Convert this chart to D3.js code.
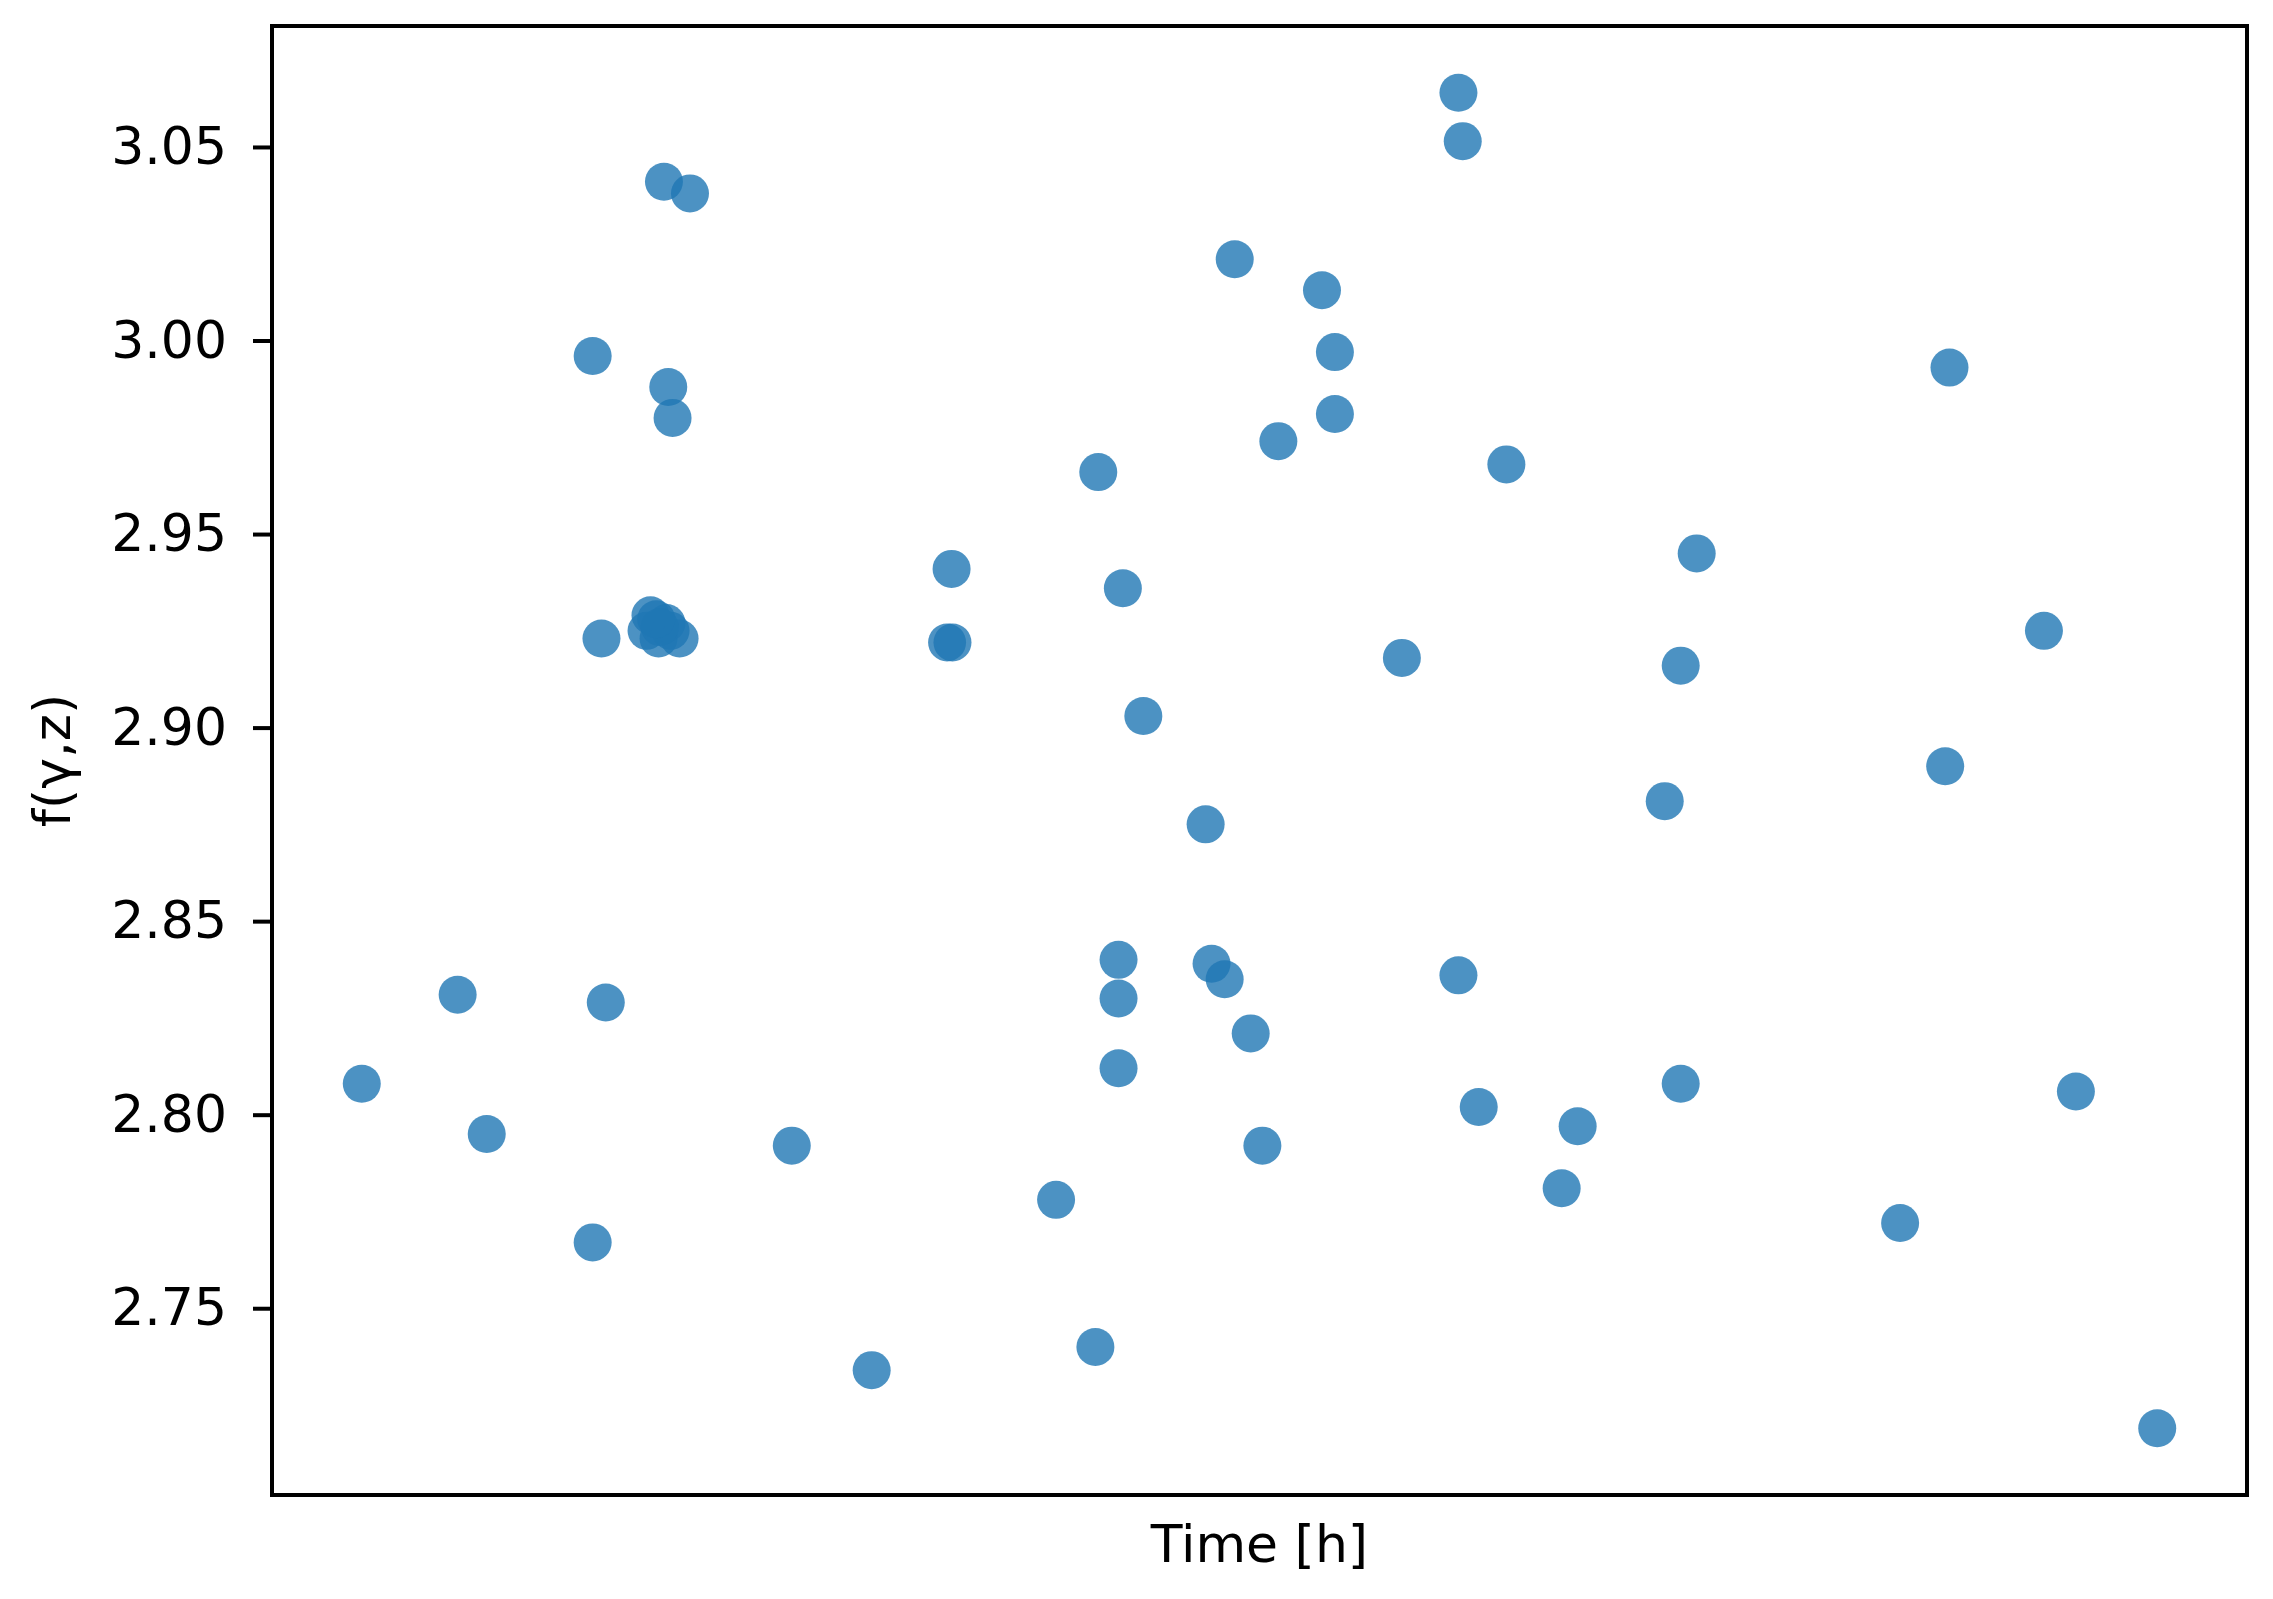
<!DOCTYPE html>
<html>
<head>
<meta charset="utf-8">
<script src="https://d3js.org/d3.v7.min.js"></script>
<style>
    html, body { margin: 0; padding: 0; background: #ffffff; }
    svg { display: block; }
</style>
</head>
<body>
<div id="chart-div"></div>
<script>
var timeHours = [
    0, 5.34, 6.96, 12.86, 13.35, 12.86, 13.59, 16.83, 18.28, 17.07, 17.31,
    16.08, 15.86, 16.53, 17.20, 17.70, 16.97, 16.60, 16.40,
    23.95, 28.40, 32.85, 32.6, 32.9, 38.67, 41.02, 40.86, 42.39, 43.53,
    42.15, 42.15, 42.15, 47.00, 47.33, 48.06, 48.62, 49.51, 50.16, 51.05,
    53.48, 54.20, 54.20, 57.93, 61.08, 61.32, 61.08, 62.21, 63.75, 66.83,
    67.72, 72.57, 73.46, 73.46, 74.35, 85.68, 88.19, 88.43, 93.69, 95.47, 100
];

var fValues = [
    2.808, 2.831, 2.795, 2.996, 2.923, 2.767, 2.829, 3.041, 3.038, 2.988, 2.980,
    2.929, 2.925, 2.923, 2.925, 2.923, 2.927, 2.926, 2.928,
    2.792, 2.734, 2.941, 2.922, 2.922, 2.778, 2.966, 2.740, 2.936, 2.903,
    2.840, 2.830, 2.812, 2.875, 2.839, 2.835, 3.021, 2.821, 2.792, 2.974,
    3.013, 2.997, 2.981, 2.918, 3.064, 3.0515, 2.836, 2.802, 2.968, 2.781,
    2.797, 2.881, 2.916, 2.808, 2.945, 2.772, 2.890, 2.993, 2.925, 2.806, 2.719
];

var yTickValues = [2.75, 2.80, 2.85, 2.90, 2.95, 3.00, 3.05];

var xLabel = 'Time [h]';
var yLabel = 'f(\u03b3,z)';

(function () {
    'use strict';

    var width = 2273;
    var height = 1599;
    var margin = { top: 26, right: 26, bottom: 104, left: 272 };
    var fontSize = 52;
    var fontFamily = '"DejaVu Sans", sans-serif';

    // matplotlib style 5% padding around data
    function padded (values) {
        var ext = d3.extent(values);
        var pad = (ext[1] - ext[0]) * 0.05;
        return [ext[0] - pad, ext[1] + pad];
    }

    var points = timeHours.map(function (t, i) {
        return { t: t, f: fValues[i] };
    });

    var x = d3.scaleLinear()
        .domain(padded(timeHours))
        .range([margin.left, width - margin.right]);

    var y = d3.scaleLinear()
        .domain(padded(fValues))
        .range([height - margin.bottom, margin.top]);

    var svg = d3.select('#chart-div').append('svg')
        .attr('width', width)
        .attr('height', height)
        .style('font-family', fontFamily);

    svg.append('rect')
        .attr('width', width)
        .attr('height', height)
        .attr('fill', '#ffffff');

    svg.append('g').attr('id', 'points')
        .selectAll('circle').data(points)
        .enter().append('circle')
        .attr('cx', function (d) { return x(d.t); })
        .attr('cy', function (d) { return y(d.f); })
        .attr('r', 19)
        .attr('fill', '#1f77b4')
        .attr('fill-opacity', 0.8);

    var yAxis = d3.axisLeft(y)
        .tickValues(yTickValues)
        .tickFormat(d3.format('.2f'))
        .tickSizeInner(19)
        .tickSizeOuter(0)
        .tickPadding(26);

    var yAxisG = svg.append('g')
        .attr('transform', 'translate(' + margin.left + ',0)')
        .call(yAxis);

    yAxisG.select('.domain').remove();
    yAxisG.selectAll('.tick line')
        .attr('stroke', '#000000')
        .attr('stroke-width', 4);
    yAxisG.selectAll('.tick text')
        .attr('fill', '#000000')
        .style('font-size', fontSize + 'px')
        .style('font-family', fontFamily);

    // frame around the plot area
    svg.append('rect')
        .attr('x', margin.left)
        .attr('y', margin.top)
        .attr('width', width - margin.left - margin.right)
        .attr('height', height - margin.top - margin.bottom)
        .attr('fill', 'none')
        .attr('stroke', '#000000')
        .attr('stroke-width', 4);

    svg.append('text')
        .attr('x', (margin.left + width - margin.right) / 2)
        .attr('y', 1562)
        .attr('text-anchor', 'middle')
        .style('font-size', fontSize + 'px')
        .attr('fill', '#000000')
        .text(xLabel);

    svg.append('text')
        .attr('transform', 'translate(70,' + ((margin.top + height - margin.bottom) / 2) + ') rotate(-90)')
        .attr('text-anchor', 'middle')
        .style('font-size', fontSize + 'px')
        .attr('fill', '#000000')
        .text(yLabel);
})();
</script>
</body>
</html>
